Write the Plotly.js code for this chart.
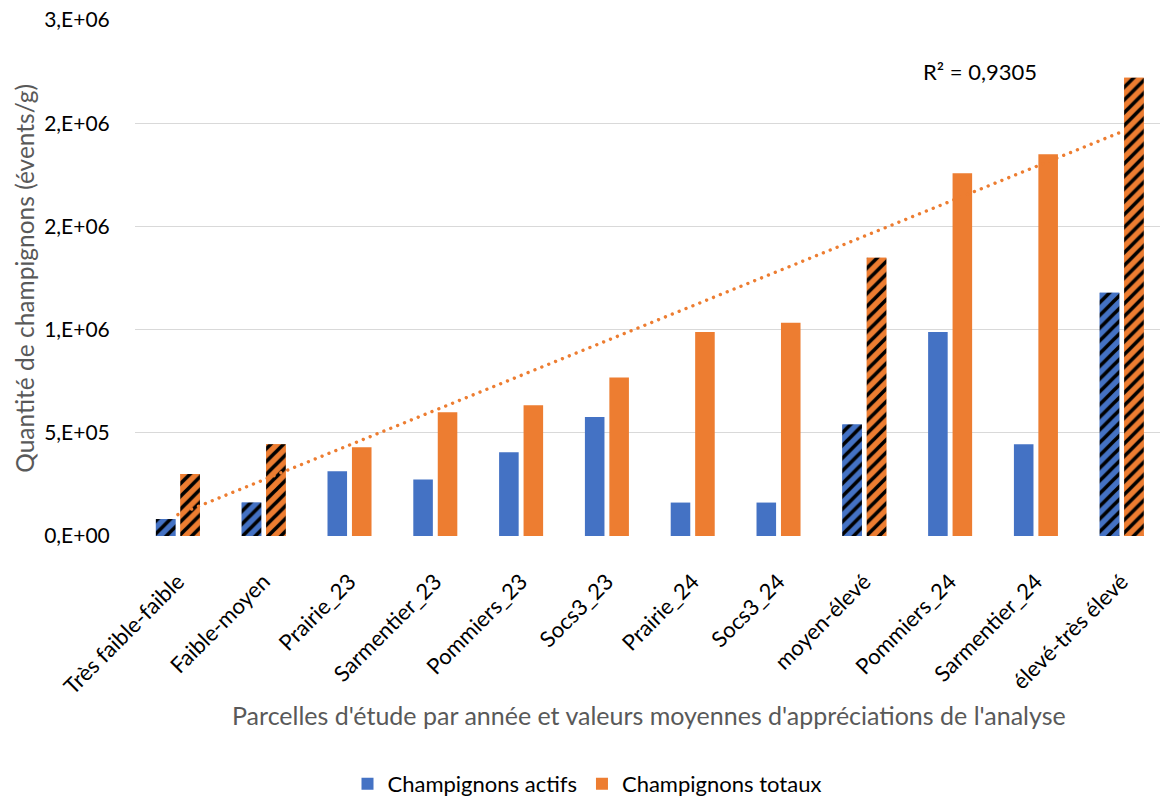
<!DOCTYPE html>
<html>
<head>
<meta charset="utf-8">
<script src="https://cdn.plot.ly/plotly-3.0.1.min.js"></script>
<style>
  html, body { margin: 0; padding: 0; background: #ffffff; }
  #chart { width: 1160px; height: 805px; }
</style>
</head>
<body>
<div id="chart"></div>
<script>
// ---- Data ----
const categories = [
  "Très faible-faible", "Faible-moyen", "Prairie_23", "Sarmentier_23",
  "Pommiers_23", "Socs3_23", "Prairie_24", "Socs3_24",
  "moyen-élevé", "Pommiers_24", "Sarmentier_24", "élevé-très élevé"
];
const actifs = [82000, 162000, 314000, 274000, 406000, 576000, 162000, 162000, 540000, 988000, 444000, 1178000];
const totaux = [300000, 444000, 430000, 599000, 634000, 768000, 988000, 1033000, 1348000, 1757000, 1850000, 2220000];
// appraisal classes (hatched bars) vs study plots (solid bars)
const isAppraisal = [true, true, false, false, false, false, false, false, true, false, false, true];

const yTickVals = [0, 500000, 1000000, 1500000, 2000000, 2500000];
const yTickText = ["0,E+00", "5,E+05", "1,E+06", "2,E+06", "2,E+06", "3,E+06"];

const seriesNames = ["Champignons actifs", "Champignons totaux"];
const r2Label = "R² = 0,9305";
const xTitle = "Parcelles d'étude par année et valeurs moyennes d'appréciations de l'analyse";
const yTitle = "Quantité de champignons (évents/g)";

// ---- Linear trendline on the totals (least squares on x = 1..n) ----
const n = totaux.length;
const xs = totaux.map((_, i) => i + 1);
const mx = xs.reduce((a, b) => a + b, 0) / n;
const my = totaux.reduce((a, b) => a + b, 0) / n;
let sxy = 0, sxx = 0;
for (let i = 0; i < n; i++) { sxy += (xs[i] - mx) * (totaux[i] - my); sxx += (xs[i] - mx) ** 2; }
const slope = sxy / sxx;
const intercept = my - slope * mx;
const trend = xs.map(x => intercept + slope * x);

const BLUE = "#4472C4";
const ORANGE = "#ED7D31";
const FONT = "Lato, 'Open Sans', sans-serif";

const hatchPattern = {
  shape: "/", fgcolor: "#000000", fillmode: "replace", size: 9, solidity: 0.4
};

const traces = [
  {
    type: "bar", name: seriesNames[0], x: categories, y: actifs,
    offsetgroup: "a", marker: { color: BLUE, line: { width: 0 } }
  },
  {
    type: "bar", name: seriesNames[1], x: categories, y: totaux,
    offsetgroup: "b", marker: { color: ORANGE, line: { width: 0 } }
  },
  {
    type: "bar", x: categories, y: actifs.map((v, i) => isAppraisal[i] ? v : null),
    offsetgroup: "a", showlegend: false,
    marker: { color: BLUE, line: { width: 0 }, pattern: Object.assign({ bgcolor: BLUE }, hatchPattern) }
  },
  {
    type: "bar", x: categories, y: totaux.map((v, i) => isAppraisal[i] ? v : null),
    offsetgroup: "b", showlegend: false,
    marker: { color: ORANGE, line: { width: 0 }, pattern: Object.assign({ bgcolor: ORANGE }, hatchPattern) }
  },
  {
    type: "scatter", mode: "lines", x: categories, y: trend, showlegend: false,
    line: { color: ORANGE, width: 3.4, dash: "0.01px,7.4px" }
  }
];

const plotLeft = 135, plotBottom = 538.5, plotH = 518.5, plotW = 1025;
const px = x => (x - plotLeft) / plotW;
const py = y => (plotBottom - y) / plotH;

const layout = {
  width: 1160, height: 805,
  margin: { l: plotLeft, r: 0, t: 20, b: 805 - plotBottom, pad: 0 },
  paper_bgcolor: "#ffffff", plot_bgcolor: "#ffffff",
  font: { family: FONT, size: 21, color: "#000000" },
  barmode: "group", bargap: 0.43, bargroupgap: 0.2,
  showlegend: true,
  legend: {
    orientation: "h", x: px(587), xanchor: "center", y: -(788 - plotBottom) / plotH, yanchor: "middle",
    font: { family: FONT, size: 22, color: "#000000" }, traceorder: "normal"
  },
  xaxis: {
    type: "category", range: [-0.5, 11.446], tickangle: -45,
    showgrid: false, zeroline: false, showline: false,
    ticks: "outside", ticklen: 23, tickcolor: "rgba(0,0,0,0)",
    tickfont: { family: FONT, size: 22, color: "#000000" }, automargin: false
  },
  yaxis: {
    range: [0, 2500000], tickvals: yTickVals, ticktext: yTickText,
    showgrid: true, gridcolor: "#D9D9D9", gridwidth: 1.3, zeroline: false, showline: false,
    ticks: "outside", ticklen: 20, tickcolor: "rgba(0,0,0,0)",
    tickfont: { family: FONT, size: 21, color: "#000000" }, automargin: false
  },
  annotations: [
    {
      xref: "paper", yref: "paper", x: px(649), y: -(718 - plotBottom) / plotH,
      xanchor: "center", yanchor: "middle", showarrow: false, text: xTitle,
      font: { family: FONT, size: 25, color: "#595959" }
    },
    {
      xref: "paper", yref: "paper", x: px(25), y: py(280),
      xanchor: "center", yanchor: "middle", showarrow: false, text: yTitle, textangle: -90,
      font: { family: FONT, size: 24.5, color: "#595959" }
    },
    {
      xref: "paper", yref: "paper", x: px(980), y: py(72),
      xanchor: "center", yanchor: "middle", showarrow: false, text: r2Label,
      font: { family: FONT, size: 22, color: "#000000" }
    }
  ]
};

Plotly.newPlot("chart", traces, layout, { staticPlot: true, displayModeBar: false }).then(gd => {
  gd.querySelectorAll(".scatterlayer .js-line").forEach(p => {
    p.style.strokeLinecap = "round";
  });
});
</script>
</body>
</html>
